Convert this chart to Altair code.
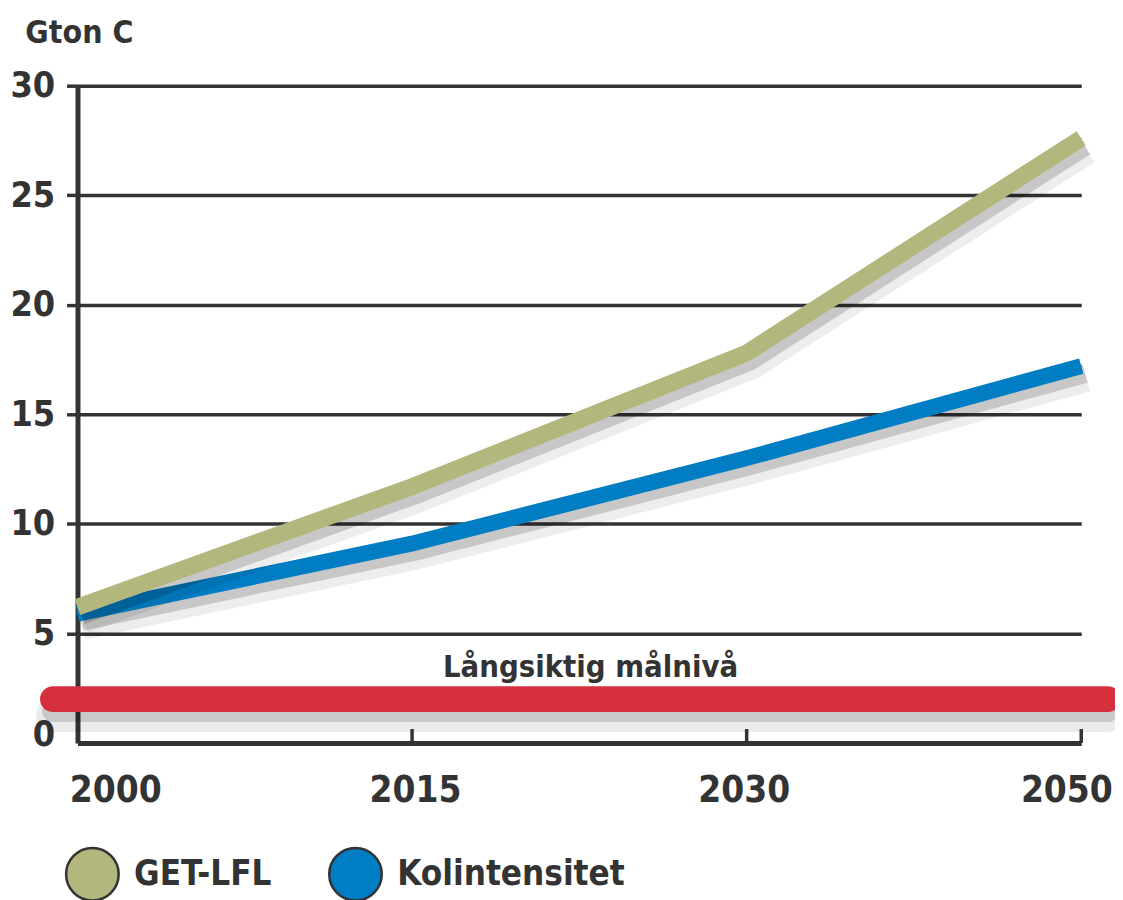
import altair as alt
import pandas as pd

# ---- data ----
years = [2000, 2015, 2030, 2050]
get_lfl = [6.2, 11.7, 17.8, 27.6]
kolintensitet = [5.9, 9.1, 13.0, 17.2]
series_names = ["GET-LFL", "Kolintensitet"]
series_colors = ["#B3B67D", "#007DC3"]
y_ticks = [0, 5, 10, 15, 20, 25, 30]
target_level = 2.0
target_span = [1998.9, 2051.6]
target_label = "Långsiktig målnivå"
target_label_year = 2023
y_title = "Gton C"

FONT = "DejaVu Sans Condensed, Liberation Sans Narrow, sans-serif"
DARK = "#333333"
RED = "#D6303F"
W, H = 1015, 662

green_df = pd.DataFrame({"year": years, "value": get_lfl, "series": series_names[0]})
blue_df = pd.DataFrame({"year": years, "value": kolintensitet, "series": series_names[1]})
both_df = pd.concat([green_df, blue_df], ignore_index=True)
target_df = pd.DataFrame({"x_start": [target_span[0]], "x_end": [target_span[1]], "value": [target_level]})
label_df = pd.DataFrame({"year": [target_label_year], "value": [target_level], "label": [target_label]})
tick_df = pd.DataFrame({"year": years[1:]})

xscale = alt.Scale(domain=years, range=[0, 337, 674, 1011], nice=False, zero=False)
yscale = alt.Scale(domain=[y_ticks[0], y_ticks[-1]], nice=False, zero=False)

xaxis = alt.Axis(
    values=years, format="d", grid=False, ticks=False, title=None,
    domainColor=DARK, domainWidth=5,
    labelFont=FONT, labelFontSize=37, labelFontWeight="bold", labelColor=DARK,
    labelPadding=30, labelFlush=False,
    labelOffset={"condition": [
        {"test": "datum.value === 2000", "value": 38},
        {"test": "datum.value === 2015", "value": 3},
        {"test": "datum.value === 2030", "value": -3},
        {"test": "datum.value === 2050", "value": -15}], "value": 0},
)
yaxis = alt.Axis(
    values=y_ticks, grid=True, gridColor=DARK, gridWidth=3.5,
    gridOpacity={"condition": {"test": "datum.value === 0", "value": 0}, "value": 1},
    tickColor=DARK, tickSize=11, tickWidth=3.5,
    tickOpacity={"condition": {"test": "datum.value === 0", "value": 0}, "value": 1},
    domainColor=DARK, domainWidth=5,
    labelFont=FONT, labelFontSize=36, labelFontWeight="bold", labelColor=DARK,
    labelPadding=12,
    labelOffset={"condition": {"test": "datum.value === 0", "value": -8}, "value": 0},
    title=y_title, titleAngle=0, titleAlign="left", titleBaseline="alphabetic",
    titleX=-53, titleY=-44, titleFont=FONT, titleFontSize=32, titleFontWeight="bold",
    titleColor=DARK,
)

X = lambda f: alt.X(f, scale=xscale, axis=xaxis)
Y = lambda f: alt.Y(f, scale=yscale, axis=yaxis)

# legend carrier: tiny points hidden under the lines
legend_pts = alt.Chart(both_df).mark_circle(size=4).encode(
    x=X("year:Q"), y=Y("value:Q"),
    fill=alt.Fill("series:N", scale=alt.Scale(domain=series_names, range=series_colors),
                  legend=alt.Legend(orient="none", legendX=-13, legendY=766,
                                    direction="horizontal", title=None,
                                    symbolType="circle", symbolSize=2800,
                                    symbolStrokeColor=DARK, symbolStrokeWidth=2.5,
                                    symbolOpacity=1,
                                    labelFont=FONT, labelFontSize=35,
                                    labelFontWeight="bold", labelColor=DARK,
                                    labelOffset=14, columnPadding=52, labelLimit=400)),
)

target_shadow1 = alt.Chart(target_df).mark_rule(
    strokeWidth=34, color="#000", opacity=0.08, yOffset=16, strokeCap="round"
).encode(x=X("x_start:Q"), x2="x_end:Q", y=Y("value:Q"))
target_shadow2 = alt.Chart(target_df).mark_rule(
    strokeWidth=22, color="#000", opacity=0.14, yOffset=12, strokeCap="round"
).encode(x=X("x_start:Q"), x2="x_end:Q", y=Y("value:Q"))
target = alt.Chart(target_df).mark_rule(
    strokeWidth=26, color=RED, strokeCap="round"
).encode(x=X("x_start:Q"), x2="x_end:Q", y=Y("value:Q"))

target_text = alt.Chart(label_df).mark_text(
    dy=-22, align="center", baseline="alphabetic", font=FONT, fontSize=31,
    fontWeight="bold", color=DARK
).encode(x=X("year:Q"), y=Y("value:Q"), text="label:N")

x_ticks = alt.Chart(tick_df).mark_rule(color=DARK, strokeWidth=3.5).encode(
    x=X("year:Q"), y=alt.value(H - 14), y2=alt.value(H)
)


def series_layers(df, color, width):
    sh1 = alt.Chart(df).mark_line(color="#000", opacity=0.07, strokeWidth=width + 14,
                                  xOffset=5, yOffset=11).encode(x=X("year:Q"), y=Y("value:Q"))
    sh2 = alt.Chart(df).mark_line(color="#000", opacity=0.16, strokeWidth=width + 2,
                                  xOffset=4, yOffset=8).encode(x=X("year:Q"), y=Y("value:Q"))
    ln = alt.Chart(df).mark_line(color=color, strokeWidth=width).encode(
        x=X("year:Q"), y=Y("value:Q"))
    return [sh1, sh2, ln]


layers = [legend_pts, target_shadow1, target_shadow2, target, target_text, x_ticks]
layers += series_layers(blue_df, series_colors[1], 16)
layers += series_layers(green_df, series_colors[0], 17)

chart = alt.layer(*layers).properties(
    width=W, height=H,
    autosize=alt.AutoSizeParams(type="none"),
    padding={"left": 70, "top": 75, "right": 30, "bottom": 165},
    background="white",
).configure_view(stroke=None)

chart.save("out.html", embed_options={"renderer": "svg", "actions": False})
